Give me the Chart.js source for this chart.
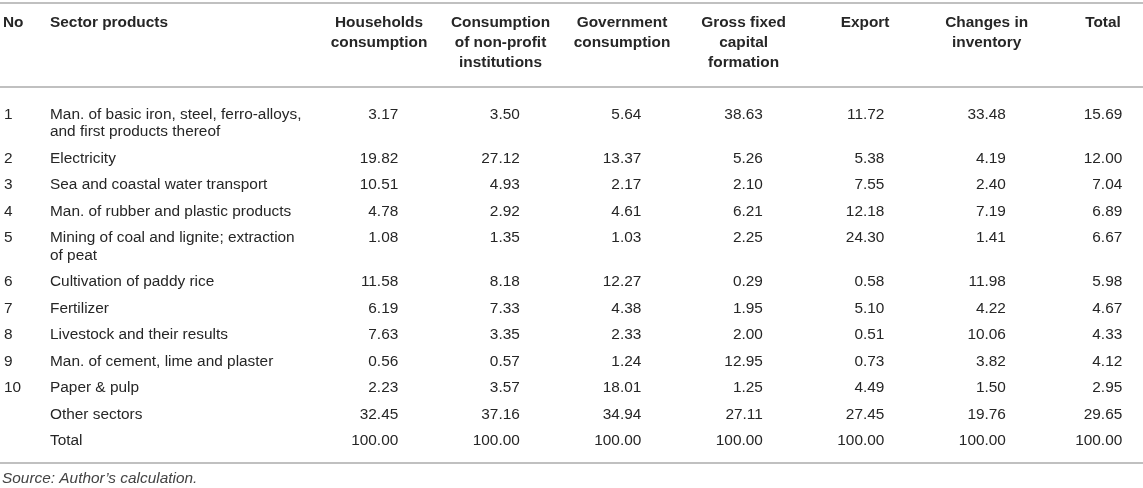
<!DOCTYPE html>
<html lang="en">
<head>
<meta charset="UTF-8">
<title>Sector products table</title>
<script src="https://cdn.jsdelivr.net/npm/chart.js"></script>
<style>
    body { margin: 0; background: #ffffff; }
    #tabela { display: block; }
</style>
</head>
<body>
<canvas id="tabela" width="1143" height="488"></canvas>
<script>
    // column headers (one entry per text line)
    var colHeaders = [
        ['Households', 'consumption'],
        ['Consumption', 'of non-profit', 'institutions'],
        ['Government', 'consumption'],
        ['Gross fixed', 'capital', 'formation'],
        ['Export'],
        ['Changes in', 'inventory'],
        ['Total']
    ];

    var rowNo = ['1', '2', '3', '4', '5', '6', '7', '8', '9', '10', '', ''];

    var sectors = [
        ['Man. of basic iron, steel, ferro-alloys,', 'and first products thereof'],
        ['Electricity'],
        ['Sea and coastal water transport'],
        ['Man. of rubber and plastic products'],
        ['Mining of coal and lignite; extraction', 'of peat'],
        ['Cultivation of paddy rice'],
        ['Fertilizer'],
        ['Livestock and their results'],
        ['Man. of cement, lime and plaster'],
        ['Paper & pulp'],
        ['Other sectors'],
        ['Total']
    ];

    var households = [3.17, 19.82, 10.51, 4.78, 1.08, 11.58, 6.19, 7.63, 0.56, 2.23, 32.45, 100.00];
    var nonProfit  = [3.50, 27.12, 4.93, 2.92, 1.35, 8.18, 7.33, 3.35, 0.57, 3.57, 37.16, 100.00];
    var government = [5.64, 13.37, 2.17, 4.61, 1.03, 12.27, 4.38, 2.33, 1.24, 18.01, 34.94, 100.00];
    var grossFixed = [38.63, 5.26, 2.10, 6.21, 2.25, 0.29, 1.95, 2.00, 12.95, 1.25, 27.11, 100.00];
    var exportVals = [11.72, 5.38, 7.55, 12.18, 24.30, 0.58, 5.10, 0.51, 0.73, 4.49, 27.45, 100.00];
    var inventory  = [33.48, 4.19, 2.40, 7.19, 1.41, 11.98, 4.22, 10.06, 3.82, 1.50, 19.76, 100.00];
    var total      = [15.69, 12.00, 7.04, 6.89, 6.67, 5.98, 4.67, 4.33, 4.12, 2.95, 29.65, 100.00];

    var source = 'Source: Author\u2019s calculation.';

    var series = [households, nonProfit, government, grossFixed, exportVals, inventory, total];

    // relative column widths (the Total column is a bit narrower)
    var larguraCol = [1, 1, 1, 1, 1, 1, 0.915];
    var colX = [];
    larguraCol.reduce(function (soma, w, c) {
        colX.push(c === 0 ? 0 : soma + (larguraCol[c - 1] + w) / 2);
        return colX[c];
    }, 0);

    // row position in "row units": a wrapped line adds a bit less than a full row
    var LINHA_EXTRA = 0.65;
    var acc = 0;
    var rowPos = sectors.map(function (linhas) {
        var p = acc;
        acc += 1 + LINHA_EXTRA * (linhas.length - 1);
        return p;
    });
    var yMax = rowPos[rowPos.length - 1];

    var FONTE = '15.4px "Liberation Sans", Arial, Helvetica, sans-serif';
    var FONTE_B = 'bold 15.4px "Liberation Sans", Arial, Helvetica, sans-serif';
    var FONTE_I = 'italic 15.4px "Liberation Sans", Arial, Helvetica, sans-serif';
    var COR_TEXTO = '#262626';
    var COR_LINHA = '#ababab';

    var datasets = series.map(function (vals, c) {
        return {
            label: colHeaders[c].join(' '),
            data: vals.map(function (v, r) { return { x: colX[c], y: rowPos[r], v: v }; }),
            pointRadius: 0,
            pointHoverRadius: 0,
            showLine: false
        };
    });

    var tabelaPlugin = {
        id: 'tabelaTexto',
        afterDatasetsDraw: function (chart) {
            var ctx = chart.ctx;
            var area = chart.chartArea;
            var xs = chart.scales.x;
            var ys = chart.scales.y;
            var W = chart.width;
            var passoLinha = ys.getPixelForValue(LINHA_EXTRA) - ys.getPixelForValue(0);

            ctx.save();
            ctx.textBaseline = 'middle';

            // rules
            ctx.strokeStyle = COR_LINHA;
            ctx.lineWidth = 1.5;
            [3, 87, area.bottom + 22].forEach(function (yy) {
                ctx.beginPath();
                ctx.moveTo(0, yy);
                ctx.lineTo(W, yy);
                ctx.stroke();
            });

            // header
            ctx.fillStyle = COR_TEXTO;
            ctx.font = FONTE_B;
            ctx.textAlign = 'left';
            var hTop = 23;
            var hStep = 20;
            ctx.fillText('No', 3, hTop);
            ctx.fillText('Sector products', 50, hTop);
            ctx.textAlign = 'center';
            colHeaders.forEach(function (linhas, c) {
                var cx = xs.getPixelForValue(colX[c]);
                linhas.forEach(function (t, k) {
                    ctx.fillText(t, cx, hTop + k * hStep);
                });
            });

            // row labels
            ctx.font = FONTE;
            ctx.textAlign = 'left';
            sectors.forEach(function (linhas, r) {
                var yy = ys.getPixelForValue(rowPos[r]);
                ctx.fillText(rowNo[r], 4, yy);
                linhas.forEach(function (t, k) {
                    ctx.fillText(t, 50, yy + k * passoLinha);
                });
            });

            // values, right aligned so the decimals line up
            ctx.textAlign = 'right';
            var meia = ctx.measureText('00.00').width / 2;
            chart.data.datasets.forEach(function (ds, i) {
                var meta = chart.getDatasetMeta(i);
                meta.data.forEach(function (el, r) {
                    ctx.fillText(ds.data[r].v.toFixed(2), el.x + meia, el.y);
                });
            });

            // source note
            ctx.font = FONTE_I;
            ctx.textAlign = 'left';
            ctx.fillStyle = '#444444';
            ctx.fillText(source, 2, area.bottom + 38);

            ctx.restore();
        }
    };

    var canvas = document.getElementById('tabela');
    var ctx = canvas.getContext('2d');

    window.tabela = new Chart(ctx, {
        type: 'scatter',
        data: { datasets: datasets },
        options: {
            responsive: false,
            animation: false,
            events: [],
            layout: { padding: { top: 115, bottom: 47, left: 379, right: 40 } },
            plugins: {
                legend: { display: false },
                tooltip: { enabled: false },
                title: { display: false }
            },
            scales: {
                x: { type: 'linear', min: 0, max: colX[colX.length - 1], display: false },
                y: { type: 'linear', min: 0, max: yMax, reverse: true, display: false }
            }
        },
        plugins: [tabelaPlugin]
    });
</script>
</body>
</html>
